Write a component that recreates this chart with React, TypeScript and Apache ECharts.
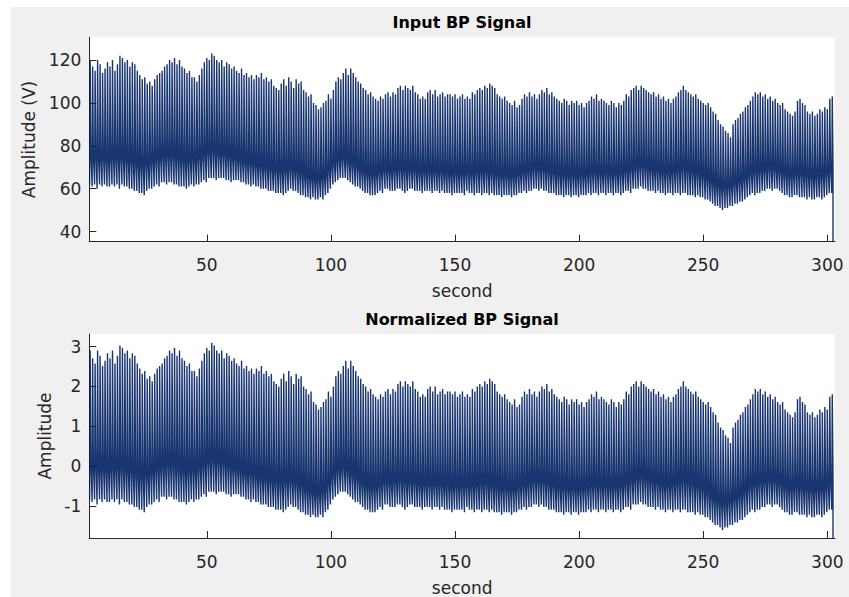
import React, { useEffect, useRef } from "react";
import * as echarts from "echarts";

// Beat-by-beat arterial pressure (mmHg-scale amplitude), one beat per second from t = 3 s.
// Systolic peak of each beat
const SYS = [
  120, 117, 115, 120, 118, 114, 116, 119, 117, 120,
  115, 118, 122, 121, 119, 120, 117, 119, 118, 115,
  113, 111, 112, 109, 110, 108, 111, 113, 114, 115,
  117, 118, 120, 119, 121, 118, 120, 117, 116, 114,
  115, 112, 112, 110, 113, 116, 119, 121, 120, 123,
  122, 120, 119, 120, 117, 119, 118, 116, 117, 115,
  114, 116, 113, 114, 112, 113, 111, 113, 112, 114,
  111, 112, 110, 111, 108, 107, 106, 109, 111, 108,
  112, 110, 107, 111, 109, 110, 106, 105, 103, 104,
  100, 99, 97, 98, 100, 101, 104, 102, 106, 110,
  112, 111, 114, 116, 113, 116, 114, 112, 110, 109,
  107, 106, 104, 105, 103, 102, 101, 103, 102, 104,
  105, 103, 105, 104, 107, 108, 106, 108, 107, 106,
  108, 105, 104, 102, 103, 102, 105, 106, 104, 106,
  103, 104, 105, 103, 104, 104, 103, 104, 102, 103,
  104, 102, 103, 102, 105, 104, 106, 107, 106, 108,
  107, 109, 108, 107, 104, 103, 102, 103, 101, 100,
  99, 101, 98, 99, 102, 104, 103, 105, 103, 104,
  102, 104, 106, 105, 107, 104, 105, 103, 102, 101,
  100, 102, 101, 99, 101, 100, 101, 99, 100, 98,
  100, 101, 103, 102, 104, 101, 102, 101, 100, 99,
  101, 100, 98, 100, 99, 101, 104, 103, 106, 107,
  108, 106, 108, 107, 106, 105, 104, 105, 103, 104,
  102, 103, 101, 102, 100, 102, 103, 105, 106, 108,
  106, 105, 104, 103, 104, 102, 101, 100, 99, 100,
  98, 96, 95, 92, 90, 89, 87, 86, 84, 90,
  92, 93, 95, 96, 98, 99, 101, 103, 105, 104,
  105, 103, 104, 102, 103, 101, 102, 100, 99, 100,
  97, 96, 95, 94, 96, 101, 102, 100, 99, 96,
  95, 96, 94, 95, 97, 96, 98, 97, 102, 103,
];

// Dicrotic notch level of each beat
const NOTCH = [
  77, 76, 78, 77, 76, 78, 77, 76, 77, 78,
  77, 78, 77, 78, 77, 76, 77, 76, 75, 75,
  74, 74, 75, 74, 76, 76, 77, 78, 77, 78,
  78, 79, 78, 79, 78, 78, 77, 77, 76, 76,
  76, 77, 76, 77, 78, 78, 79, 80, 80, 81,
  80, 80, 79, 80, 79, 78, 78, 77, 77, 76,
  76, 75, 75, 74, 75, 74, 74, 73, 73, 73,
  72, 73, 72, 72, 71, 72, 71, 71, 72, 71,
  72, 72, 71, 71, 70, 70, 69, 68, 68, 67,
  67, 66, 66, 67, 67, 68, 70, 72, 74, 75,
  76, 76, 77, 76, 75, 74, 74, 73, 72, 71,
  70, 70, 69, 69, 69, 69, 70, 70, 71, 71,
  71, 70, 71, 71, 71, 72, 71, 71, 70, 71,
  71, 71, 70, 70, 70, 70, 71, 70, 70, 70,
  70, 70, 70, 69, 70, 69, 69, 70, 69, 69,
  70, 69, 70, 69, 70, 70, 70, 71, 70, 71,
  70, 70, 70, 69, 69, 69, 68, 69, 68, 68,
  68, 68, 69, 69, 70, 70, 70, 71, 71, 72,
  72, 71, 72, 71, 71, 70, 70, 70, 69, 69,
  69, 69, 69, 68, 69, 68, 68, 68, 69, 68,
  69, 69, 70, 70, 70, 70, 69, 70, 70, 69,
  69, 70, 69, 70, 70, 70, 71, 71, 72, 72,
  73, 73, 74, 73, 73, 72, 72, 71, 71, 71,
  70, 70, 70, 70, 70, 71, 71, 72, 72, 73,
  72, 72, 71, 71, 70, 70, 69, 69, 68, 67,
  66, 65, 64, 64, 63, 63, 63, 64, 64, 65,
  65, 66, 66, 67, 68, 69, 70, 70, 71, 71,
  71, 71, 71, 72, 72, 72, 71, 71, 71, 70,
  70, 69, 69, 69, 70, 70, 70, 69, 69, 69,
  69, 68, 68, 69, 69, 69, 69, 70, 71, 71,
];

// Diastolic trough (beat onset) of each beat
const DIA = [
  62, 61, 62, 60, 62, 61, 62, 61, 61, 62,
  61, 62, 60, 62, 61, 61, 60, 60, 59, 59,
  58, 58, 57, 59, 60, 60, 61, 62, 61, 63,
  63, 62, 63, 63, 62, 62, 61, 61, 61, 60,
  61, 62, 61, 62, 62, 63, 64, 63, 65, 65,
  65, 64, 65, 65, 65, 64, 64, 63, 64, 64,
  64, 63, 63, 62, 62, 61, 62, 61, 61, 60,
  60, 60, 59, 59, 59, 58, 58, 58, 57, 58,
  59, 60, 59, 59, 58, 57, 57, 56, 56, 55,
  56, 55, 55, 56, 55, 57, 58, 60, 62, 63,
  64, 65, 65, 65, 64, 63, 62, 61, 61, 60,
  59, 58, 58, 57, 57, 57, 58, 59, 58, 60,
  60, 59, 59, 59, 60, 60, 59, 58, 59, 60,
  60, 59, 59, 59, 58, 59, 59, 59, 58, 59,
  59, 58, 59, 58, 58, 58, 57, 58, 58, 58,
  58, 57, 59, 58, 58, 57, 58, 58, 57, 58,
  58, 57, 58, 57, 57, 57, 56, 57, 57, 57,
  56, 57, 57, 58, 58, 59, 58, 59, 59, 60,
  60, 59, 60, 59, 59, 58, 58, 58, 57, 57,
  57, 56, 57, 57, 56, 57, 57, 56, 57, 57,
  57, 58, 57, 58, 58, 57, 58, 58, 57, 58,
  58, 57, 58, 58, 57, 58, 59, 59, 58, 60,
  60, 60, 61, 60, 60, 59, 59, 59, 58, 59,
  58, 58, 57, 58, 58, 57, 58, 58, 57, 58,
  58, 57, 57, 57, 56, 57, 56, 56, 55, 55,
  54, 53, 52, 52, 51, 50, 51, 51, 52, 52,
  53, 53, 54, 54, 55, 56, 57, 58, 57, 58,
  58, 59, 59, 60, 60, 59, 60, 60, 59, 58,
  57, 57, 56, 56, 57, 57, 56, 56, 56, 55,
  56, 55, 55, 56, 56, 55, 56, 57, 58, 58,
];

// Timing of the record (s)
const BEAT_START = 2.8;
const BEAT_PERIOD = 1.0;
const PEAK_DELAY = 0.2;
const NOTCH_DELAY = 0.5;
// Final sample where the recording drops off
const END_T = 302.3;
const END_V = 35.3;

// Z-score parameters of the record
const BP_MEAN = 75.0;
const BP_STD = 15.5;

// Axis ranges and tick labels
const X_RANGE = [2.66, 303.1];
const X_TICKS = [50, 100, 150, 200, 250, 300];
const RAW_RANGE = [35.3, 130.6];
const RAW_TICKS = [40, 60, 80, 100, 120];
const NORM_RANGE = [-1.81, 3.32];
const NORM_TICKS = [-1, 0, 1, 2, 3];

const FONT = "DejaVu Sans";
const INK = "#262626";
const TRACE = "#001f60";

function buildTrace(map: (v: number) => number): number[][] {
  const pts: number[][] = [];
  for (let k = 0; k < SYS.length; k++) {
    const t = BEAT_START + k * BEAT_PERIOD;
    pts.push([t, map(DIA[k])]);
    pts.push([t + PEAK_DELAY, map(SYS[k])]);
    pts.push([t + NOTCH_DELAY, map(NOTCH[k])]);
  }
  pts.push([END_T, map(END_V)]);
  return pts;
}

function xAxisFor(gridIndex: number) {
  return {
    type: "value",
    gridIndex,
    min: X_RANGE[0],
    max: X_RANGE[1],
    name: "second",
    nameLocation: "middle",
    nameGap: 41,
    nameTextStyle: { fontFamily: FONT, fontSize: 17, color: INK },
    axisLine: { show: true, onZero: false, lineStyle: { color: INK, width: 1 } },
    axisTick: { show: true, inside: true, length: 7, customValues: X_TICKS, lineStyle: { color: INK } },
    axisLabel: { customValues: X_TICKS, margin: 15, fontFamily: FONT, fontSize: 17, color: INK },
    splitLine: { show: false },
  };
}

function yAxisFor(gridIndex: number, range: number[], ticks: number[], name: string, gap: number) {
  return {
    type: "value",
    gridIndex,
    min: range[0],
    max: range[1],
    name,
    nameLocation: "middle",
    nameGap: gap,
    nameTextStyle: { fontFamily: FONT, fontSize: 17, color: INK },
    axisLine: { show: true, onZero: false, lineStyle: { color: INK, width: 1 } },
    axisTick: { show: true, inside: true, length: 7, customValues: ticks, lineStyle: { color: INK } },
    axisLabel: { customValues: ticks, margin: 8, fontFamily: FONT, fontSize: 17, color: INK },
    splitLine: { show: false },
  };
}

export default function App() {
  const ref = useRef<HTMLDivElement>(null);

  useEffect(() => {
    document.body.style.margin = "0";
    if (!ref.current) return;
    const chart = echarts.init(ref.current, undefined, { renderer: "svg" });

    const raw = buildTrace((v) => v);
    const norm = buildTrace((v) => (v - BP_MEAN) / BP_STD);

    const traceSeries = (i: number, data: number[][]) => ({
      type: "line",
      xAxisIndex: i,
      yAxisIndex: i,
      data,
      showSymbol: false,
      symbol: "none",
      clip: true,
      lineStyle: { color: TRACE, width: 1.4, opacity: 0.9 },
      silent: true,
    });

    chart.setOption({
      animation: false,
      backgroundColor: "#f0f0f0",
      graphic: [
        { type: "rect", shape: { x: 0, y: 0, width: 849, height: 7 }, style: { fill: "#ffffff" }, silent: true },
        { type: "rect", shape: { x: 0, y: 0, width: 11, height: 597 }, style: { fill: "#ffffff" }, silent: true },
        {
          type: "text",
          x: 462,
          y: 22,
          style: { text: "Input BP Signal", fontFamily: FONT, fontSize: 16, fontWeight: "bold", fill: "#000", align: "center", verticalAlign: "middle" },
        },
        {
          type: "text",
          x: 462,
          y: 319,
          style: { text: "Normalized BP Signal", fontFamily: FONT, fontSize: 16, fontWeight: "bold", fill: "#000", align: "center", verticalAlign: "middle" },
        },
      ],
      grid: [
        { left: 89.3, top: 37.3, width: 745.7, height: 204.4, show: true, backgroundColor: "#ffffff", borderWidth: 0 },
        { left: 89.3, top: 334, width: 745.7, height: 205, show: true, backgroundColor: "#ffffff", borderWidth: 0 },
      ],
      xAxis: [xAxisFor(0), xAxisFor(1)],
      yAxis: [
        yAxisFor(0, RAW_RANGE, RAW_TICKS, "Amplitude (V)", 48),
        yAxisFor(1, NORM_RANGE, NORM_TICKS, "Amplitude", 36),
      ],
      series: [traceSeries(0, raw), traceSeries(1, norm)],
    });

    return () => chart.dispose();
  }, []);

  return (
    <div
      ref={ref}
      style={{ position: "absolute", left: 0, top: 0, width: 849, height: 597 }}
    />
  );
}
